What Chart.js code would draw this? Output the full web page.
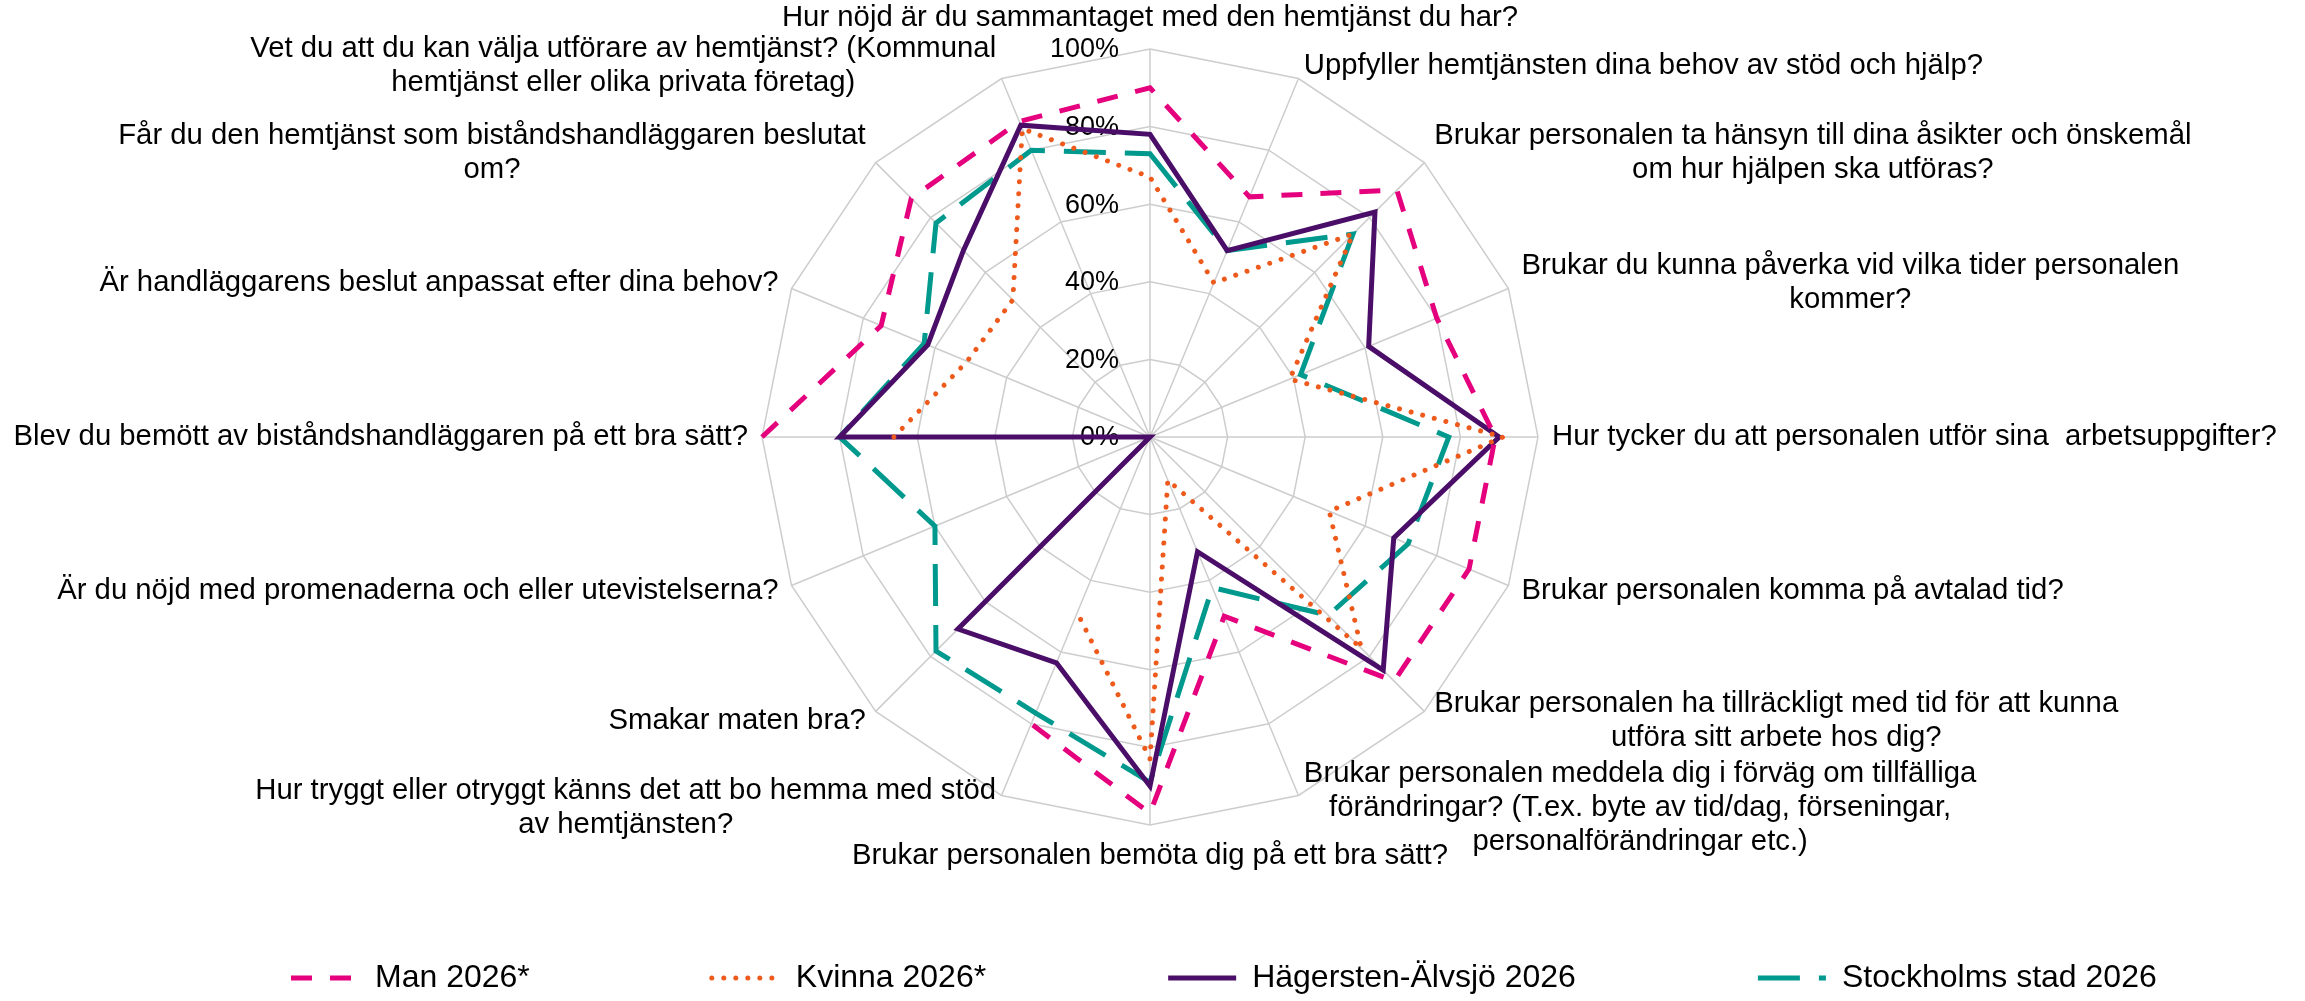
<!DOCTYPE html>
<html>
<head>
<meta charset="utf-8">
<script src="https://cdn.jsdelivr.net/npm/chart.js@4/dist/chart.umd.min.js"></script>
<style>
  html, body { margin: 0; padding: 0; background: #ffffff; overflow: hidden; }
  #wrap { width: 2305px; height: 1001px; position: relative; }
  canvas { display: block; }
</style>
</head>
<body>
<div id="wrap"><canvas id="c" width="2305" height="1001"></canvas></div>
<script>
// ---------- data ----------
const categories = [
  ['Hur nöjd är du sammantaget med den hemtjänst du har?'],
  ['Uppfyller hemtjänsten dina behov av stöd och hjälp?'],
  ['Brukar personalen ta hänsyn till dina åsikter och önskemål', 'om hur hjälpen ska utföras?'],
  ['Brukar du kunna påverka vid vilka tider personalen', 'kommer?'],
  ['Hur tycker du att personalen utför sina  arbetsuppgifter?'],
  ['Brukar personalen komma på avtalad tid?'],
  ['Brukar personalen ha tillräckligt med tid för att kunna', 'utföra sitt arbete hos dig?'],
  ['Brukar personalen meddela dig i förväg om tillfälliga', 'förändringar? (T.ex. byte av tid/dag, förseningar,', 'personalförändringar etc.)'],
  ['Brukar personalen bemöta dig på ett bra sätt?'],
  ['Hur tryggt eller otryggt känns det att bo hemma med stöd', 'av hemtjänsten?'],
  ['Smakar maten bra?'],
  ['Är du nöjd med promenaderna och eller utevistelserna?'],
  ['Blev du bemött av biståndshandläggaren på ett bra sätt?'],
  ['Är handläggarens beslut anpassat efter dina behov?'],
  ['Får du den hemtjänst som biståndshandläggaren beslutat', 'om?'],
  ['Vet du att du kan välja utförare av hemtjänst? (Kommunal', 'hemtjänst eller olika privata företag)']
];

const seriesNames = ['Man 2026*', 'Kvinna 2026*', 'Hägersten-Älvsjö 2026', 'Stockholms stad 2026'];

const man2026       = [90, 67, 90, 80, 89, 89, 89, 50, 97, 80, null, null, 100, 75, 87, 88];
const kvinna2026    = [67, 43, 74, 39, 91, 50, 77, 12, 83, 49, null, null, 66, 51, 50, 86];
const hagersten2026 = [78, 52, 82, 61, 90, 68, 85, 32, 90, 63, 70, 0, 80, 62, 68, 87];
const stockholm2026 = [73, 52, 74, 42, 77, 72, 65, 42, 89, 77, 78, 60, 80, 63, 78, 80];

const tickValues = [0, 20, 40, 60, 80, 100];
const tickLabels = ['0%', '20%', '40%', '60%', '80%', '100%'];

// ---------- styles ----------
const FONT_FAMILY = '"Liberation Sans", Arial, sans-serif';
const LABEL_SIZE = 29.3;
const LABEL_LINE_H = 34;
const LABEL_GAP = 14;
const TICK_SIZE = 27;
const LEGEND_SIZE = 32;
const LEGEND_PAD = 182;
const LEGEND_SAMPLE_W = 68;
const LEGEND_START_X = 291;
const LEGEND_TEXT_Y = 978;
const GRID_COLOR = '#cdcdcd';

const styles = [
  { color: '#E5007D', dash: [21, 18], cap: 'butt' },
  { color: '#EE5A1C', dash: [0.01, 12], cap: 'round' },
  { color: '#4B0E68', dash: [], cap: 'butt' },
  { color: '#00998E', dash: [42, 19], cap: 'butt' }
];
const seriesValues = [man2026, kvinna2026, hagersten2026, stockholm2026];

const datasets = seriesValues.map((vals, i) => ({
  label: seriesNames[i],
  data: vals,
  borderColor: styles[i].color,
  backgroundColor: 'transparent',
  borderWidth: 5,
  borderDash: styles[i].dash,
  borderCapStyle: styles[i].cap,
  borderJoinStyle: 'miter',
  fill: false,
  pointRadius: 0,
  pointHoverRadius: 0,
  tension: 0,
  spanGaps: false,
  clip: false
}));

// ---------- plugins ----------
const tickLabelPlugin = {
  id: 'tickLabelPlugin',
  beforeDatasetsDraw(chart) {
    const s = chart.scales.r;
    const ctx = chart.ctx;
    ctx.save();
    ctx.font = TICK_SIZE + 'px ' + FONT_FAMILY;
    ctx.fillStyle = '#000000';
    ctx.textAlign = 'right';
    ctx.textBaseline = 'middle';
    tickValues.forEach((v, k) => {
      const p = s.getPointPositionForValue(0, v);
      ctx.fillText(tickLabels[k], s.xCenter - 31, p.y + 1);
    });
    ctx.restore();
  }
};

const pointLabelPlugin = {
  id: 'pointLabelPlugin',
  afterDatasetsDraw(chart) {
    const s = chart.scales.r;
    const ctx = chart.ctx;
    const labels = chart.data.labels;
    const n = labels.length;
    ctx.save();
    ctx.font = LABEL_SIZE + 'px ' + FONT_FAMILY;
    ctx.fillStyle = '#000000';
    ctx.textAlign = 'center';
    ctx.textBaseline = 'middle';
    labels.forEach((lines, i) => {
      const p = s.getPointPosition(i, s.drawingArea + LABEL_GAP);
      const deg = 360 * i / n;
      const w = Math.max(...lines.map(l => ctx.measureText(l).width));
      const h = lines.length * LABEL_LINE_H;
      let cx, cy;
      if (deg === 0 || deg === 180) cx = p.x;
      else if (deg < 180) cx = p.x + w / 2;
      else cx = p.x - w / 2;
      if (deg === 0) cy = p.y - h / 2;
      else if (deg === 180) cy = p.y + h / 2;
      else cy = p.y;
      lines.forEach((l, k) => {
        ctx.fillText(l, cx, cy - h / 2 + LABEL_LINE_H * (k + 0.5));
      });
    });
    ctx.restore();
  }
};

const legendPlacePlugin = {
  id: 'legendPlacePlugin',
  afterLayout(chart) {
    const lg = chart.legend;
    if (!lg) return;
    const pad = lg.options.labels.padding;
    const itemH = LEGEND_SIZE;
    const newTop = LEGEND_TEXT_Y - pad - itemH / 2;
    lg.top = newTop;
    lg.bottom = chart.height;
    lg.height = lg.bottom - lg.top;
    const lw = lg.lineWidths ? lg.lineWidths[0] : 0;
    const curStart = (lg.left + pad + lg.right - lw) / 2;
    const dx = LEGEND_START_X - curStart;
    lg.left += dx;
    lg.right += dx;
  }
};

// ---------- chart ----------
const ctx = document.getElementById('c').getContext('2d');
new Chart(ctx, {
  type: 'radar',
  data: { labels: categories, datasets: datasets },
  options: {
    responsive: false,
    animation: false,
    layout: { padding: { left: 0, right: 5, top: 49, bottom: 116 } },
    scales: {
      r: {
        min: 0,
        max: 100,
        startAngle: 0,
        ticks: { display: false, stepSize: 20 },
        pointLabels: { display: false },
        grid: { color: GRID_COLOR, lineWidth: 1.5, circular: false },
        angleLines: { display: true, color: GRID_COLOR, lineWidth: 1.5 }
      }
    },
    plugins: {
      tooltip: { enabled: false },
      legend: {
        display: true,
        position: 'bottom',
        maxHeight: 60,
        labels: {
          usePointStyle: true,
          pointStyleWidth: LEGEND_SAMPLE_W,
          padding: LEGEND_PAD,
          color: '#000000',
          font: { family: FONT_FAMILY, size: LEGEND_SIZE },
          generateLabels(chart) {
            return chart.data.datasets.map((ds, i) => ({
              text: ds.label,
              fillStyle: 'rgba(0,0,0,0)',
              strokeStyle: ds.borderColor,
              lineWidth: ds.borderWidth,
              lineDash: ds.borderDash || [],
              lineDashOffset: 0,
              lineCap: ds.borderCapStyle,
              pointStyle: 'line',
              rotation: 0,
              hidden: false,
              datasetIndex: i,
              fontColor: '#000000'
            }));
          }
        }
      }
    }
  },
  plugins: [tickLabelPlugin, pointLabelPlugin, legendPlacePlugin]
});
</script>
</body>
</html>
